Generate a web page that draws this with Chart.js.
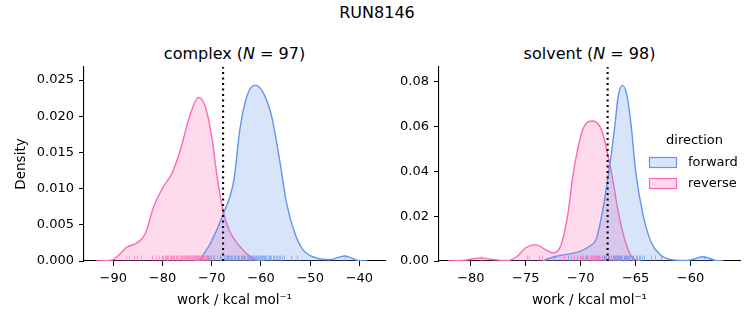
<!DOCTYPE html>
<html>
<head>
<meta charset="utf-8">
<script src="https://cdn.jsdelivr.net/npm/chart.js@4.4.0/dist/chart.umd.min.js"></script>
<style>
  html, body { margin: 0; padding: 0; background: #fff; }
  body { width: 753px; height: 325px; position: relative; overflow: hidden; font-family: "DejaVu Sans", sans-serif; color: #000; }
  .t { position: absolute; white-space: nowrap; transform: translateX(-50%); font-size: 16px; line-height: normal; }
  canvas { position: absolute; top: 0; }
</style>
</head>
<body>
<div class="t" style="left:377px; top:3px;">RUN8146</div>
<div class="t" style="left:234.5px; top:43.5px;">complex (<i>N</i> = 97)</div>
<div class="t" style="left:589.5px; top:43.5px;">solvent (<i>N</i> = 98)</div>
<canvas id="c1" width="400" height="325" style="left:0"></canvas>
<canvas id="c2" width="353" height="325" style="left:400px"></canvas>
<script>
// complex phase, KDE
const complexFwdX = [-73.5, -72.3, -71.6, -70.3, -67.6, -65.5, -64.3, -62.9, -61.2, -59.5, -57.8, -56.1, -54.8, -53.1, -51.4, -48.6, -45.9, -44.3, -42.9, -41.6, -40.5, -38.4];
const complexFwdY = [0, 0.0002, 0.001, 0.0024, 0.0066, 0.0112, 0.0181, 0.0227, 0.0243, 0.0232, 0.0199, 0.0135, 0.0080, 0.0038, 0.0015, 0.0004, 0.0002, 0.0005, 0.0007, 0.0004, 0.0001, 0];
const complexRevX = [-93.5, -92, -90, -88.5, -87.3, -85.2, -83.5, -81.8, -79.8, -78.1, -76.4, -74.3, -72.7, -71.3, -69.9, -68.9, -67.6, -66.3, -64.3, -62.2, -60.9, -59.5];
const complexRevY = [0, 0.00003, 0.0002, 0.0011, 0.0019, 0.0025, 0.0038, 0.0075, 0.0103, 0.0121, 0.0153, 0.0204, 0.0226, 0.0213, 0.0167, 0.0116, 0.0066, 0.0040, 0.0020, 0.0006, 0.0001, 0];
const complexFwdRug = [-72.2, -70.8, -69.6, -68.4, -67.5, -67.2, -66.9, -66.6, -66.3, -66.0, -65.8, -65.5, -65.2, -64.9, -64.7, -64.4, -64.1, -63.8, -63.6, -63.4, -63.2, -62.9, -62.7, -62.5, -62.3, -62.1, -61.9, -61.7, -61.5, -61.3, -61.1, -60.9, -60.7, -60.5, -60.3, -60.0, -59.8, -59.5, -59.3, -59.1, -58.9, -58.6, -58.4, -58.1, -57.9, -57.6, -57.3, -57.0, -56.8, -56.4, -56.1, -55.7, -55.3, -54.0, -52.7, -42.9];
const complexRevRug = [-87.5, -86.8, -85.8, -85.1, -84.4, -82.1, -81.4, -80.7, -80.2, -79.9, -79.6, -79.4, -79.1, -78.8, -78.5, -78.3, -78.1, -77.9, -77.6, -77.2, -77.0, -76.8, -76.5, -76.3, -76.1, -75.9, -75.7, -75.5, -75.3, -75.1, -74.9, -74.8, -74.6, -74.4, -74.2, -74.0, -73.8, -73.7, -73.5, -73.4, -73.2, -73.1, -72.9, -72.8, -72.6, -72.5, -72.3, -72.2, -72.0, -71.9, -71.7, -71.6, -71.4, -71.2, -71.0, -70.9, -70.6, -70.4, -70.2, -69.8, -69.0, -68.1, -67.2, -66.4, -65.3, -64.1];
const complexLine = -67.7;
const complexXTicks = [-90, -80, -70, -60, -50, -40];
const complexYTicks = [0, 0.005, 0.010, 0.015, 0.020, 0.025];

// solvent phase
const solventFwdX = [-73.5, -72.4, -70.9, -70.0, -69.2, -68.6, -68.1, -67.5, -66.9, -66.6, -66.2, -65.8, -65.4, -65.0, -64.3, -63.6, -62.8, -61.9, -60.4, -59.6, -58.9, -58.2, -57.7, -57.0];
const solventFwdY = [0, 0.0019, 0.0033, 0.0044, 0.0066, 0.0096, 0.020, 0.038, 0.060, 0.0732, 0.0784, 0.0740, 0.060, 0.040, 0.020, 0.0085, 0.0029, 0.0007, 0.0002, 0.0010, 0.0019, 0.0010, 0.0002, 0];
const solventRevX = [-82.1, -80.5, -79.1, -77.9, -76.7, -75.8, -75.0, -74.1, -73.2, -72.5, -71.8, -71.2, -70.65, -69.7, -68.9, -68.1, -67.3, -66.5, -65.9, -65.3, -64.6];
const solventRevY = [0, 0.0004, 0.0014, 0.0006, 0.0002, 0.002, 0.0059, 0.0073, 0.0051, 0.0036, 0.0070, 0.020, 0.040, 0.060, 0.0625, 0.0584, 0.042, 0.020, 0.008, 0.0015, 0];
const solventFwdRug = [-72.4, -71.2, -70.3, -69.5, -68.5, -68.3, -68.1, -67.9, -67.7, -67.5, -67.4, -67.2, -67.1, -67.0, -66.9, -66.8, -66.7, -66.6, -66.5, -66.4, -66.3, -66.2, -66.1, -66.0, -65.9, -65.8, -65.7, -65.6, -65.5, -65.35, -65.2, -65.0, -64.9, -64.7, -64.6, -64.4, -64.2, -63.6, -63.2, -62.7, -58.8];
const solventRevRug = [-79.1, -74.85, -74.7, -73.8, -73.5, -71.5, -70.9, -70.6, -70.3, -70.1, -70.0, -69.9, -69.8, -69.6, -69.5, -69.4, -69.3, -69.2, -69.1, -69.0, -68.9, -68.8, -68.7, -68.6, -68.5, -68.4, -68.3, -68.2, -68.1, -68.0, -67.9, -67.8, -67.7, -67.55, -67.4, -67.25, -67.1, -66.95, -66.8, -66.65, -66.5, -66.3, -66.1, -65.75, -65.2];
const solventLine = -67.55;
const solventXTicks = [-80, -75, -70, -65, -60];
const solventYTicks = [0, 0.02, 0.04, 0.06, 0.08];

const directions = ["forward", "reverse"];

const FWD = "rgb(100, 149, 237)";
const REV = "rgb(255, 105, 180)";
const FWD_FILL = "rgba(100, 149, 237, 0.25)";
const REV_FILL = "rgba(255, 105, 180, 0.25)";
const FONT = "DejaVu Sans";

const pts = (xs, ys) => xs.map((x, i) => ({ x, y: ys[i] }));
const fmtMinus = (v) => (v < 0 ? "\u2212" + Math.abs(v) : String(v));

// rug ticks, drawn after the curves and before the dotted line
const rugPlugin = {
  id: "rug",
  afterDatasetDraw(chart, args, opts) {
    if (args.index !== 1) return;
    const { ctx, scales: { x, y } } = chart;
    const y0 = y.getPixelForValue(0);
    ctx.save();
    ctx.lineWidth = 1;
    opts.sets.forEach((s) => {
      ctx.strokeStyle = s.color;
      s.values.forEach((v) => {
        const px = Math.round(x.getPixelForValue(v)) + 0.5;
        ctx.beginPath();
        ctx.moveTo(px, y0);
        ctx.lineTo(px, y0 - 5.5);
        ctx.stroke();
      });
    });
    ctx.restore();
  },
};

const legendPlugin = {
  id: "dirLegend",
  afterDraw(chart, args, opts) {
    if (!opts.show) return;
    const ctx = chart.ctx;
    ctx.save();
    ctx.font = `13px "${FONT}"`;
    ctx.fillStyle = "#000";
    ctx.textBaseline = "middle";
    ctx.textAlign = "center";
    ctx.fillText("direction", 294.5, 141);
    ctx.textAlign = "left";
    const rows = [
      { label: directions[0], fill: FWD_FILL, line: FWD, y: 157 },
      { label: directions[1], fill: REV_FILL, line: REV, y: 178 },
    ];
    rows.forEach((r) => {
      ctx.fillStyle = r.fill;
      ctx.fillRect(249.5, r.y + 0.5, 27, 10);
      ctx.strokeStyle = r.line;
      ctx.lineWidth = 1.2;
      ctx.strokeRect(249.5, r.y + 0.5, 27, 10);
      ctx.fillStyle = "#000";
      ctx.fillText(r.label, 288, r.y + 5.5);
    });
    ctx.restore();
  },
};

function makeChart(id, cfg) {
  const tickFont = { family: FONT, size: 13 };
  new Chart(document.getElementById(id), {
    type: "line",
    data: {
      datasets: [
        {
          data: [{ x: cfg.vline, y: 0 }, { x: cfg.vline, y: cfg.yMax }],
          borderColor: "#000",
          borderWidth: 2.1,
          borderDash: [2.1, 3.4],
          borderCapStyle: "butt",
          pointRadius: 0,
          fill: false,
        },
        {
          label: directions[0],
          data: pts(cfg.fwdX, cfg.fwdY),
          borderColor: FWD,
          backgroundColor: FWD_FILL,
          borderWidth: 1.4,
          pointRadius: 0,
          fill: "origin",
          cubicInterpolationMode: "monotone",
        },
        {
          label: directions[1],
          data: pts(cfg.revX, cfg.revY),
          borderColor: REV,
          backgroundColor: REV_FILL,
          borderWidth: 1.4,
          pointRadius: 0,
          fill: "origin",
          cubicInterpolationMode: "monotone",
        },
      ],
    },
    options: {
      responsive: false,
      animation: false,
      events: [],
      layout: { padding: { left: 0, top: 67, right: cfg.padRight, bottom: 0 } },
      plugins: {
        legend: { display: false },
        tooltip: { enabled: false },
        rug: {
          sets: [
            { values: cfg.revRug, color: "rgba(255, 105, 180, 0.6)" },
            { values: cfg.fwdRug, color: "rgba(100, 149, 237, 0.6)" },
          ],
        },
        dirLegend: { show: cfg.legend },
      },
      scales: {
        x: {
          type: "linear",
          min: cfg.xMin,
          max: cfg.xMax,
          afterBuildTicks: (s) => { s.ticks = cfg.xTicks.map((v) => ({ value: v })); },
          afterFit: (s) => { s.height = 64; },
          grid: { display: true, drawOnChartArea: false, drawTicks: true, tickLength: 5, color: "#000", lineWidth: 1 },
          border: { display: true, color: "#000", width: 1.1 },
          ticks: { font: tickFont, color: "#000", padding: 5, autoSkip: false, maxRotation: 0, callback: (v) => fmtMinus(v) },
          title: { display: true, text: "work / kcal mol\u207B\u00B9", font: { family: FONT, size: 13.5 }, color: "#000", padding: { top: 0, bottom: 16 } },
        },
        y: {
          min: 0,
          max: cfg.yMax,
          afterBuildTicks: (s) => { s.ticks = cfg.yTicks.map((v) => ({ value: v })); },
          afterFit: (s) => { s.width = cfg.yWidth; },
          grid: { display: true, drawOnChartArea: false, drawTicks: true, tickLength: 5, color: "#000", lineWidth: 1 },
          border: { display: true, color: "#000", width: 1.1 },
          ticks: { font: tickFont, color: "#000", padding: 5, autoSkip: false, callback: (v) => v.toFixed(cfg.decimals) },
          title: { display: cfg.yTitle, text: "Density", font: { family: FONT, size: 13.5 }, color: "#000", padding: { top: 13.6, bottom: 0 } },
        },
      },
    },
    plugins: [rugPlugin, legendPlugin],
  });
}

makeChart("c1", {
  fwdX: complexFwdX, fwdY: complexFwdY, revX: complexRevX, revY: complexRevY,
  fwdRug: complexFwdRug, revRug: complexRevRug, vline: complexLine,
  xTicks: complexXTicks, yTicks: complexYTicks,
  xMin: -95.96, xMax: -34.8, yMax: 0.0268, decimals: 3,
  yWidth: 84, padRight: 15, yTitle: true, legend: false,
});

makeChart("c2", {
  fwdX: solventFwdX, fwdY: solventFwdY, revX: solventRevX, revY: solventRevY,
  fwdRug: solventFwdRug, revRug: solventRevRug, vline: solventLine,
  xTicks: solventXTicks, yTicks: solventYTicks,
  xMin: -82.9, xMax: -55.5, yMax: 0.0866, decimals: 2,
  yWidth: 39, padRight: 13, yTitle: false, legend: true,
});
</script>
</body>
</html>
